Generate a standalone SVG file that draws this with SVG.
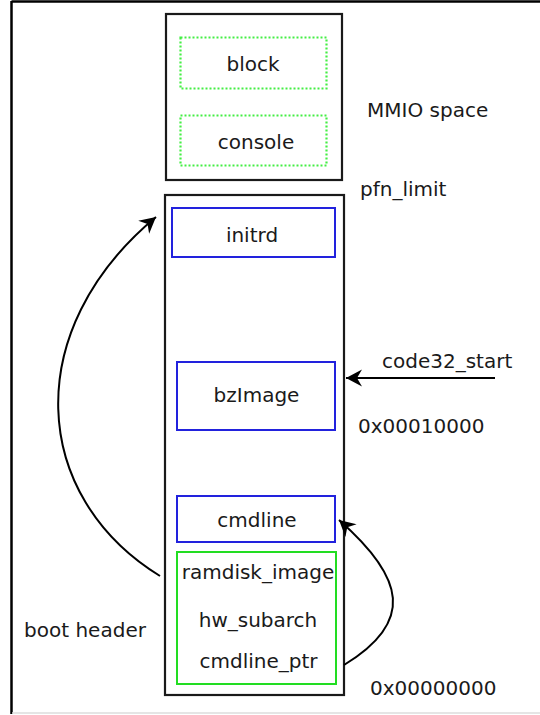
<svg xmlns="http://www.w3.org/2000/svg" width="540" height="715" viewBox="0 0 540 715">
<style>
text{font-family:"DejaVu Sans","Liberation Sans",sans-serif;font-size:20px;fill:#1a1a1a}
.c{text-anchor:middle}
.box{fill:#fff;stroke:#1a1a1a;stroke-width:2.2}
.blue{fill:none;stroke:#2222dd;stroke-width:2}
.green{fill:none;stroke:#22dd22;stroke-width:2}
.dot{fill:none;stroke:#44ee44;stroke-width:2.2;stroke-dasharray:2 2}
.conn{fill:none;stroke:#000;stroke-width:2}
</style>
<defs>
<marker id="ah" markerUnits="userSpaceOnUse" markerWidth="20" markerHeight="20" viewBox="-17 -10 20 20" refX="0" refY="0" orient="auto">
<path d="M0,0 L-16,-8.5 L-11,0 L-16,8.5 Z" fill="#000"/>
</marker>
</defs>
<rect x="0" y="0" width="540" height="715" fill="#fff"/>
<g id="frame">
<line x1="11.5" y1="1.5" x2="540" y2="1.5" stroke="#000" stroke-width="2.5"/>
<line x1="11.5" y1="1" x2="11.5" y2="714" stroke="#000" stroke-width="2.5"/>
<line x1="12" y1="713" x2="540" y2="713" stroke="#ddd" stroke-width="1.5"/>
</g>
<g id="mmio">
<rect class="box" x="166" y="14" width="176" height="166"/>
</g>
<g id="block">
<rect class="dot" x="180.5" y="37.5" width="146" height="51"/>
<text class="c" x="253" y="71">block</text>
</g>
<g id="console">
<rect class="dot" x="180.5" y="115.5" width="146" height="50"/>
<text class="c" x="256" y="149">console</text>
</g>
<g id="memory">
<rect class="box" x="165" y="195" width="179" height="500"/>
</g>
<g id="initrd">
<rect class="blue" x="172" y="208" width="163" height="49"/>
<text class="c" x="252" y="242">initrd</text>
</g>
<g id="bzImage">
<rect class="blue" x="177" y="362" width="158" height="68"/>
<text class="c" x="256.5" y="402">bzImage</text>
</g>
<g id="cmdline">
<rect class="blue" x="177" y="496" width="158" height="46"/>
<text class="c" x="257" y="527">cmdline</text>
</g>
<g id="bootheader">
<rect class="green" x="177" y="552" width="159" height="132"/>
<text class="c" x="258" y="579">ramdisk_image</text>
<text class="c" x="258" y="627">hw_subarch</text>
<text class="c" x="258.5" y="668">cmdline_ptr</text>
</g>
<g id="labels">
<text x="367" y="117">MMIO space</text>
<text x="360" y="196">pfn_limit</text>
<text x="382" y="368">code32_start</text>
<text x="358" y="433">0x00010000</text>
<text x="370" y="695">0x00000000</text>
<text class="c" x="85" y="637">boot header</text>
</g>
<g id="connectors">
<path class="conn" d="M495,378 L346,378" marker-end="url(#ah)"/>
<path class="conn" d="M160,576 C30,496 20,330 156,217" marker-end="url(#ah)"/>
<path class="conn" d="M344,665 C415,622 405,578 339,520" marker-end="url(#ah)"/>
</g>
</svg>
